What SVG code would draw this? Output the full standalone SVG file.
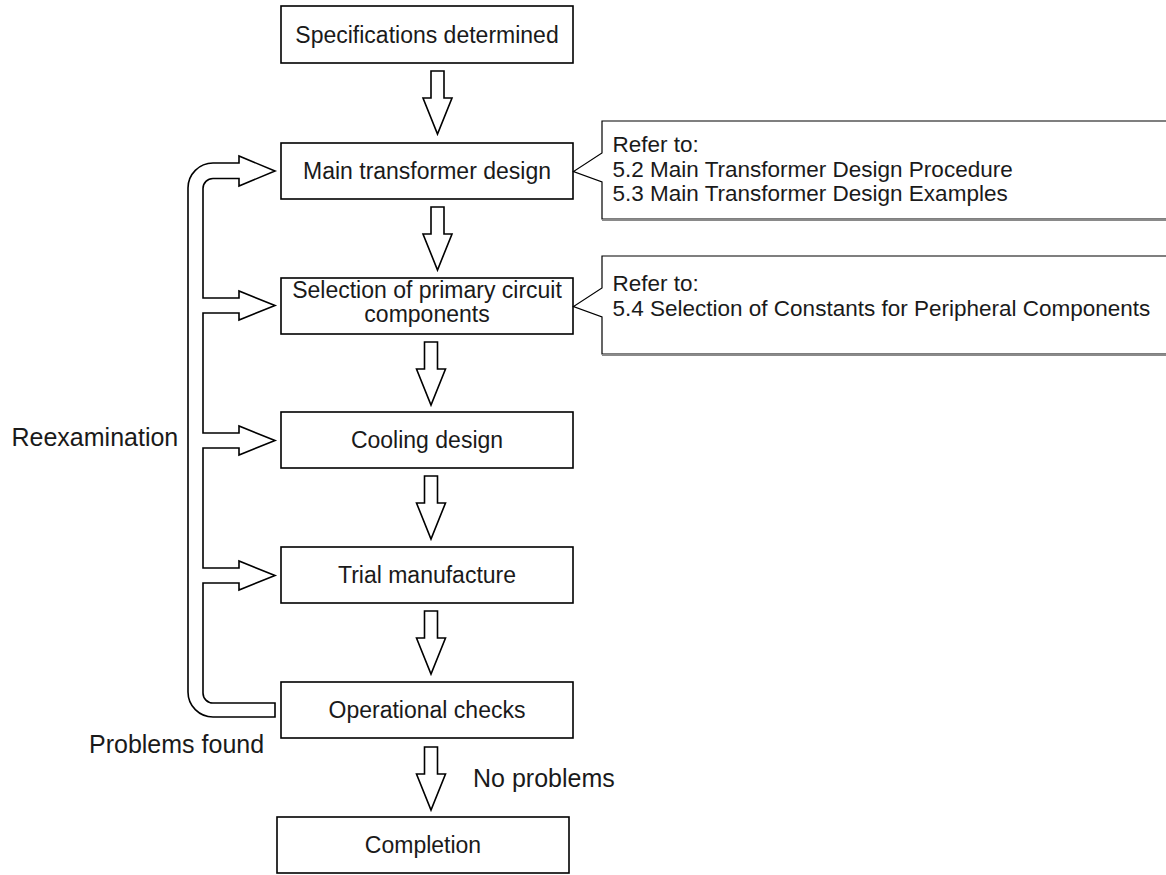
<svg xmlns="http://www.w3.org/2000/svg" xmlns:xlink="http://www.w3.org/1999/xlink" width="1166" height="875" viewBox="0 0 1166 875">
<style>
.box{fill:#fff;stroke:#000;stroke-width:1.6}
.bt{font-family:"Liberation Sans",Arial,sans-serif;font-size:23px;fill:#1a1a1a;text-anchor:middle}
.ct{font-family:"Liberation Sans",Arial,sans-serif;font-size:22.5px;fill:#1a1a1a}
.lb{font-family:"Liberation Sans",Arial,sans-serif;font-size:25px;fill:#1a1a1a}
.arr{fill:#fff;stroke:#000;stroke-width:1.6;stroke-linejoin:miter}
.call{fill:#fff;stroke:#000;stroke-width:1.2}
.shadow{stroke:#8a8a8a;stroke-width:2;fill:none}
</style>
<defs>
<path id="darr" d="M-6.5,0 H6.5 V27 H14.5 L0,63 L-14.5,27 H-6.5 Z"/>
</defs>
<rect width="1166" height="875" fill="#fff"/>
<g id="connectors">
<use xlink:href="#darr" href="#darr" class="arr" transform="translate(437.5,71)"/>
<use xlink:href="#darr" href="#darr" class="arr" transform="translate(437.5,207)"/>
<use xlink:href="#darr" href="#darr" class="arr" transform="translate(431,342)"/>
<use xlink:href="#darr" href="#darr" class="arr" transform="translate(431,476)"/>
<use xlink:href="#darr" href="#darr" class="arr" transform="translate(431,611)"/>
<use xlink:href="#darr" href="#darr" class="arr" transform="translate(431,747)"/>
<path class="arr" d="M275,703 V717 H213 A25,25 0 0 1 188,692 V188 A25,25 0 0 1 213,163 H239 V156 L275,171 L239,186 V178.5 H213 A10,10 0 0 0 203,188.5 V298 H239 V291 L275,305.5 L239,320 V313 H203 V433 H239 V426 L275,440.5 L239,455 V448 H203 V568 H239 V561 L275,575.5 L239,590 V583 H203 V693 A10,10 0 0 0 213,703 Z"/>
</g>
<g id="n1"><rect class="box" x="281" y="6" width="292" height="57"/><text class="bt" x="427" y="43">Specifications determined</text></g>
<g id="n2"><rect class="box" x="281" y="143" width="292" height="56"/><text class="bt" x="427" y="179">Main transformer design</text></g>
<g id="n3"><rect class="box" x="281" y="278" width="292" height="56"/><text class="bt" x="427" y="298">Selection of primary circuit</text><text class="bt" x="427" y="322">components</text></g>
<g id="n4"><rect class="box" x="281" y="412" width="292" height="56"/><text class="bt" x="427" y="448">Cooling design</text></g>
<g id="n5"><rect class="box" x="281" y="547" width="292" height="56"/><text class="bt" x="427" y="583">Trial manufacture</text></g>
<g id="n6"><rect class="box" x="281" y="682" width="292" height="56"/><text class="bt" x="427" y="718">Operational checks</text></g>
<g id="n7"><rect class="box" x="277" y="817" width="292" height="56"/><text class="bt" x="423" y="853">Completion</text></g>
<g id="c1">
<path class="call" d="M1170,121 H602 V153 L573.5,171.5 L602,182 V219 H1170"/>
<line class="shadow" x1="602" y1="220" x2="1166" y2="220"/>
<text class="ct" x="612.5" y="151.5">Refer to:</text>
<text class="ct" x="612.5" y="176.5">5.2 Main Transformer Design Procedure</text>
<text class="ct" x="612.5" y="201">5.3 Main Transformer Design Examples</text>
</g>
<g id="c2">
<path class="call" d="M1170,256 H602 V288 L573.5,306.5 L602,317 V354 H1170"/>
<line class="shadow" x1="602" y1="355" x2="1166" y2="355"/>
<text class="ct" x="612.5" y="291">Refer to:</text>
<text class="ct" x="612.5" y="315.5">5.4 Selection of Constants for Peripheral Components</text>
</g>
<g id="labels">
<text class="lb" x="11.5" y="446">Reexamination</text>
<text class="lb" x="89" y="753">Problems found</text>
<text class="lb" x="473" y="787">No problems</text>
</g>
</svg>
